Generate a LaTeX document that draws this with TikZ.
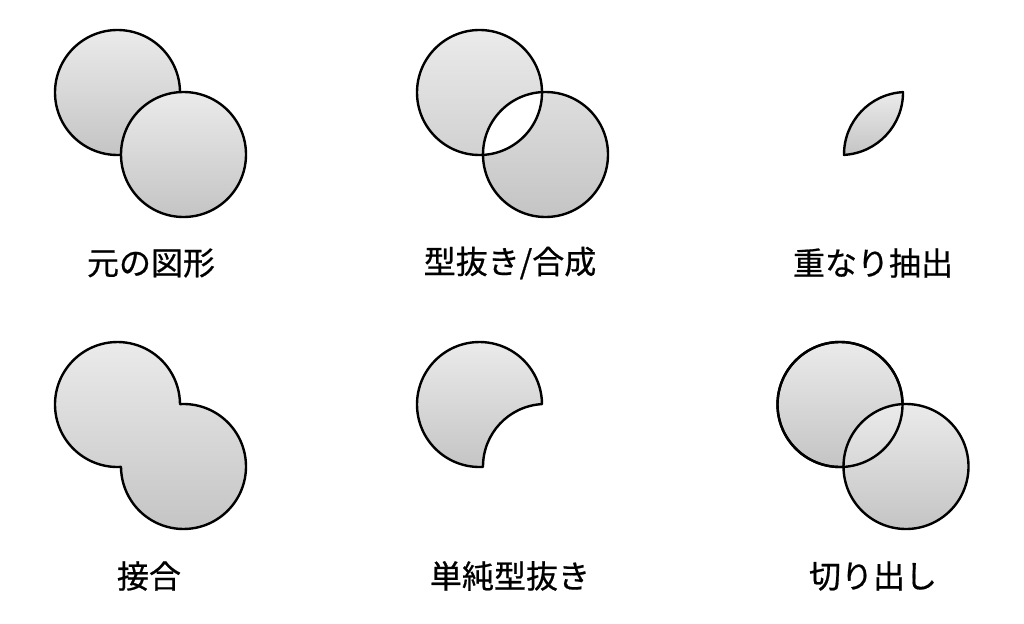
\documentclass[tikz,border=0pt]{standalone}
\usepackage{fontspec}
\newfontfamily\jpfont[FakeBold=0.6]{Noto Sans CJK JP}
\definecolor{shapetop}{gray}{0.92}
\definecolor{shapebot}{gray}{0.77}
\tikzset{
	shapefill/.style={top color=shapetop,bottom color=shapebot},
	shapeline/.style={line width=2.4pt,line join=round},
	caption/.style={font=\jpfont\fontsize{32}{38}\selectfont}
}
\begin{document}
\begin{tikzpicture}[x=1pt,y=-1pt]
	\useasboundingbox (0,0) rectangle (1024,623);
	\def\rad{62.5}
	\path
	(117.5,92.5) coordinate (a1) ++(66,62) coordinate (b1)
	(479.5,92.5) coordinate (a2) ++(66,62) coordinate (b2)
	(840.5,92.5) coordinate (a3)
	(117.5,404.5) coordinate (a4)
	(479.5,404.5) coordinate (a5)
	(840,404.5) coordinate (a6) ++(66,62) coordinate (b6)
	;
	% original shapes
	\shadedraw[shapefill,shapeline] (a1) circle (\rad);
	\shadedraw[shapefill,shapeline] (b1) circle (\rad);
	% cut out / combine
	\shadedraw[shapefill,shapeline,even odd rule] (a2) circle (\rad) (b2) circle (\rad);
	% overlap only
	\shadedraw[shapefill,shapeline] ([shift={(-0.37:\rad)}]a3) arc (-0.37:86.79:\rad) arc (179.63:266.79:\rad) -- cycle;
	% union
	\shadedraw[shapefill,shapeline] ([shift={(86.79:\rad)}]a4) arc (86.79:359.63:\rad) arc (266.79:539.63:\rad) -- cycle;
	% simple cut out
	\shadedraw[shapefill,shapeline] ([shift={(86.79:\rad)}]a5) arc (86.79:359.63:\rad) arc (266.79:179.63:\rad) -- cycle;
	% divide
	\shadedraw[shapefill,shapeline] (a6) circle (\rad);
	\shadedraw[shapefill,shapeline] (b6) circle (\rad);
	\draw[shapeline] (a6) circle (\rad);
	\path
	(151,263) node[caption] (t1) {元の図形}
	(510,263) node[caption] (t2) {型抜き/合成}
	(873,263) node[caption] (t3) {重なり抽出}
	(149,576) node[caption] (t4) {接合}
	(510,576) node[caption] (t5) {単純型抜き}
	(873,576) node[caption] (t6) {切り出し}
	;
\end{tikzpicture}
\end{document}
